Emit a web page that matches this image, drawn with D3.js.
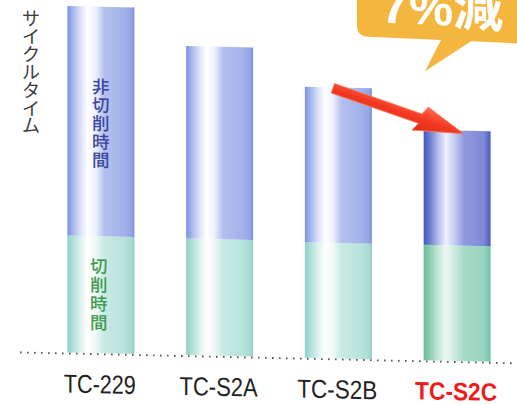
<!DOCTYPE html>
<html><head><meta charset="utf-8">
<script src="https://cdn.jsdelivr.net/npm/d3@7"></script>
<style>html,body{margin:0;padding:0;background:#fff;overflow:hidden}</style>
</head><body>
<svg id="c" width="517" height="404"></svg>
<script>
const categories = ["TC-229","TC-S2A","TC-S2B","TC-S2C"];
const cuttingTime = [117, 116.5, 115.5, 115.5];     // 切削時間
const nonCuttingTime = [229.5, 192.5, 155.5, 115];  // 非切削時間
const yTitle = "サイクルタイム";
const nonCutLabel = "非切削時間";
const cutLabel = "切削時間";
const calloutText = "7%減";

const svg = d3.select("#c");
const Y0 = 351;          // baseline (group coords)
const slope = 0.022;     // slight tilt of the scanned page

const x = d3.scaleBand().domain(categories).range([41.5, 516.5]).paddingInner(0.436).paddingOuter(0.218);
const y = d3.scaleLinear().domain([0, 350]).range([Y0, Y0 - 350]);

const defs = svg.append("defs");
function grad(id, stops){
  const g = defs.append("linearGradient").attr("id", id).attr("x1","0").attr("x2","1").attr("y1","0").attr("y2","0");
  stops.forEach(s => g.append("stop").attr("offset", s[0]).attr("stop-color", s[1]));
}
grad("blue", [[0,"#7a92e0"],[0.06,"#98ace9"],[0.18,"#d4dcf6"],[0.3,"#ffffff"],[0.42,"#eef1fb"],[0.55,"#b4c0ef"],[0.85,"#a3b1ea"],[0.96,"#93a5e6"],[1,"#7289d8"]]);
grad("green", [[0,"#90d0c8"],[0.06,"#a5dbd4"],[0.18,"#d6efeb"],[0.3,"#ffffff"],[0.42,"#f0f9f7"],[0.55,"#c8eae4"],[0.85,"#b8e3dc"],[0.96,"#a8dbd3"],[1,"#8ccbc2"]]);
grad("blueD", [[0,"#4556c0"],[0.08,"#6476cc"],[0.2,"#aab4e8"],[0.33,"#eef0fb"],[0.45,"#c8cff2"],[0.6,"#8f9ade"],[0.9,"#7f8ad8"],[1,"#4c58c0"]]);
grad("greenD", [[0,"#6cbc9c"],[0.08,"#86c9ae"],[0.2,"#bfe4d4"],[0.33,"#eef8f4"],[0.45,"#d0ede2"],[0.6,"#a6dbc7"],[0.9,"#98d4be"],[1,"#74c0a4"]]);

const g = svg.append("g").attr("transform", `matrix(1,${slope},0,1,0,0)`);

const data = categories.map((c,i)=>({c, cut:cuttingTime[i], non:nonCuttingTime[i], hi: i===categories.length-1}));

g.selectAll("rect.cut").data(data).join("rect")
  .attr("x", d=>x(d.c)).attr("width", x.bandwidth())
  .attr("y", d=>y(d.cut)).attr("height", d=>y(0)-y(d.cut))
  .attr("fill", d=> d.hi ? "url(#greenD)" : "url(#green)");
g.selectAll("rect.non").data(data).join("rect")
  .attr("x", d=>x(d.c)).attr("width", x.bandwidth())
  .attr("y", d=>y(d.cut+d.non)).attr("height", d=>y(d.cut)-y(d.cut+d.non))
  .attr("fill", d=> d.hi ? "url(#blueD)" : "url(#blue)");

g.append("line").attr("x1", 20).attr("x2", 517).attr("y1", y(0)+1).attr("y2", y(0)+1)
  .attr("stroke", "#555").attr("stroke-width", 1.8).attr("stroke-dasharray", "1.6,5.4");

g.selectAll("text.cat").data(data).join("text")
  .attr("x", d=>x(d.c)+x.bandwidth()/2 - 1).attr("y", d=>y(0) + (d.hi?39:40))
  .attr("text-anchor","middle")
  .attr("font-family","'Liberation Sans', Arial, sans-serif")
  .attr("font-size", d=>d.hi?25:26)
  .attr("font-weight", d=>d.hi?"bold":"normal")
  .attr("fill", d=>d.hi?"#ee1c1c":"#222")
  .attr("textLength", (d,i)=>[72,78,80,82][i]).attr("lengthAdjust","spacingAndGlyphs")
  .text(d=>d.c);

function vtext(parent, str, cx, y0, step, size, color, weight){
  parent.append("g").selectAll("text").data(Array.from(str)).join("text")
    .attr("x", cx).attr("y",(d,i)=>y0 + i*step)
    .attr("text-anchor","middle").attr("dominant-baseline","central")
    .attr("font-family","'Noto Sans CJK JP', sans-serif")
    .attr("font-size", size).attr("font-weight", weight).attr("fill", color)
    .text(d=>d);
}
const c0 = x(categories[0]) + x.bandwidth()/2;
vtext(g, nonCutLabel, c0, y(cuttingTime[0]+nonCuttingTime[0]) + 79, 18.4, 17.5, "#3a47a0", 500);
vtext(g, cutLabel, c0 - 2, y(0) - 88, 18.8, 17.5, "#3f9a50", 500);

// y title
vtext(svg, yTitle, 31, 17, 17.9, 18, "#3a3a3a", 400);

// red arrow from TC-S2B top to TC-S2C top
const bB = categories[2], bC = categories[3];
const sx = x(bB) + 28, sy = y(cuttingTime[2]+nonCuttingTime[2]) + slope*(x(bB)+28) + 1;
const ex = x(bC) + 40, ey = y(cuttingTime[3]+nonCuttingTime[3]) + slope*(x(bC)+40) + 3;
const dx = ex-sx, dy = ey-sy, L = Math.hypot(dx,dy);
const ang = Math.atan2(dy,dx)*180/Math.PI;
const sw = 5, hl = 46, hw = 13.5;
defs.append("linearGradient").attr("id","red").attr("x1","0").attr("x2","0").attr("y1","0").attr("y2","1")
  .selectAll("stop").data([[0,"#ff6a4a"],[0.5,"#f23a22"],[1,"#e02a18"]]).join("stop")
  .attr("offset",d=>d[0]).attr("stop-color",d=>d[1]);
svg.append("path")
  .attr("transform", `translate(${sx},${sy}) rotate(${ang})`)
  .attr("d", `M0,${-sw} L${L-hl},${-sw} L${L-hl+4},${-hw} L${L},0 L${L-hl-4},${hw} L${L-hl},${sw} L0,${sw} Z`)
  .attr("fill","url(#red)").attr("stroke","#f8785a").attr("stroke-width",0.8);

// callout bubble (top cut off by the page edge)
const cg = svg.append("g").attr("transform", `matrix(1,${slope*2},0,1,0,${-slope*2*440})`);
cg.append("path")
  .attr("d", "M357,-20 L357,29 Q357,40 368,40 L441,40 L425,72 L471,40 L530,40 L530,-20 Z")
  .attr("fill","#f5b640");
cg.append("text").attr("x", 381).attr("y", 25)
  .attr("font-family","'Liberation Sans', 'Noto Sans CJK JP', sans-serif")
  .attr("font-weight","bold").attr("font-size", 50).attr("fill","#fff")
  .text(calloutText);
</script>
</body></html>
